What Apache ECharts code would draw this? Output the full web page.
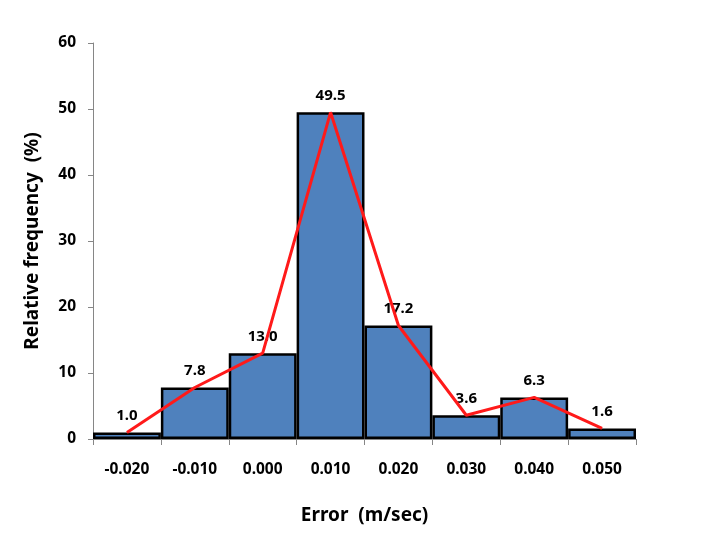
<!DOCTYPE html>
<html>
<head>
<meta charset="utf-8">
<script src="https://cdn.jsdelivr.net/npm/echarts@6/dist/echarts.min.js"></script>
<style>html,body{margin:0;padding:0;background:#fff}#c{width:708px;height:549px}</style>
</head>
<body>
<div id="c"></div>
<script>
const categories = ['-0.020','-0.010','0.000','0.010','0.020','0.030','0.040','0.050'];
const frequency = [1.0, 7.8, 13.0, 49.5, 17.2, 3.6, 6.3, 1.6];
const yTicks = {min: 0, max: 60, interval: 10};
const xTitle = 'Error  (m/sec)';
const yTitle = 'Relative frequency  (%)';

const font = '"Noto Sans", "DejaVu Sans", sans-serif';
const chart = echarts.init(document.getElementById('c'), null, {renderer: 'canvas'});
chart.setOption({
  animation: false,
  backgroundColor: '#fff',
  grid: {left: 93, right: 72, top: 43, bottom: 110},
  xAxis: {
    type: 'category',
    data: categories,
    name: xTitle,
    nameLocation: 'middle',
    nameGap: 67,
    nameTextStyle: {fontFamily: font, fontWeight: 'bold', fontSize: 19, color: '#000'},
    axisLine: {lineStyle: {color: '#868686', width: 1}},
    axisTick: {show: true, length: 6, lineStyle: {color: '#868686'}},
    axisLabel: {margin: 23, fontFamily: font, fontWeight: 'bold', fontSize: 15.5, color: '#000'}
  },
  yAxis: {
    type: 'value',
    min: yTicks.min, max: yTicks.max, interval: yTicks.interval,
    name: yTitle,
    nameLocation: 'middle',
    nameGap: 51,
    nameTextStyle: {fontFamily: font, fontWeight: 'bold', fontSize: 19, color: '#000'},
    axisLine: {show: true, lineStyle: {color: '#868686', width: 1}},
    axisTick: {show: true, length: 5, lineStyle: {color: '#868686'}},
    splitLine: {show: false},
    axisLabel: {margin: 17, fontFamily: font, fontWeight: 'bold', fontSize: 15.5, color: '#000'}
  },
  series: [
    {
      type: 'bar',
      data: frequency,
      barCategoryGap: 0,
      itemStyle: {color: '#4F81BD', borderColor: '#000', borderWidth: 2.5},
      label: {show: true, position: 'top', distance: 9, formatter: p => p.value.toFixed(1),
        fontFamily: font, fontWeight: 'bold', fontSize: 15, color: '#000'},
      z: 2
    },
    {
      type: 'line',
      data: frequency,
      symbol: 'none',
      lineStyle: {color: '#FF1A1A', width: 3},
      z: 3
    }
  ]
});
</script>
</body>
</html>
